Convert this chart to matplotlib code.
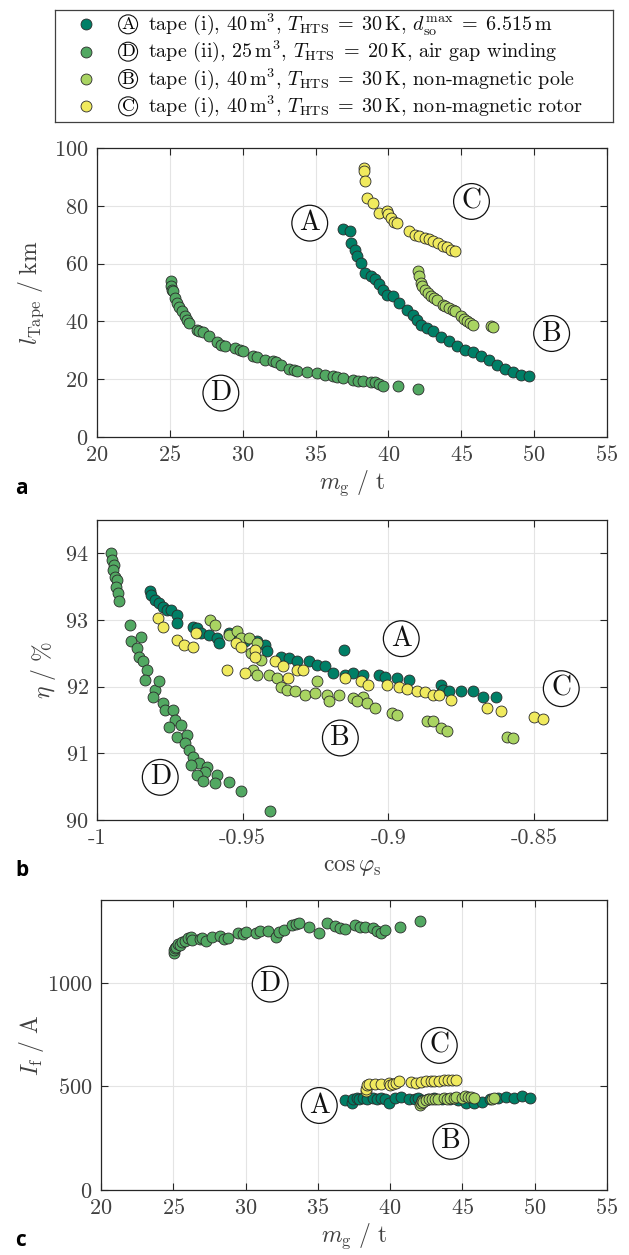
import matplotlib
matplotlib.use("Agg")
import matplotlib.pyplot as plt

plt.rcParams["font.family"] = "serif"
plt.rcParams["font.serif"] = ["cmr10"]
plt.rcParams["mathtext.fontset"] = "cm"
plt.rcParams["axes.unicode_minus"] = False
plt.rcParams["axes.formatter.use_mathtext"] = True

# --- data --------------------------------------------------------------
# series A: tape (i), 40 m3, T_HTS = 30 K, d_so max = 6.515 m
a_mg = [36.88, 37.35, 37.43, 37.70, 37.84, 38.10, 38.39, 38.80, 39.08, 39.35, 39.63,
        39.90, 40.31, 40.73, 41.27, 41.69, 41.96, 42.23, 42.65, 43.06, 43.61, 44.16,
        44.71, 45.25, 45.80, 46.35, 46.90, 47.45, 48.00, 48.55, 49.10, 49.65]
a_ltape = [72.1, 71.2, 67.1, 64.8, 62.5, 60.2, 56.7, 55.6, 54.7, 53.1, 51.0,
           49.3, 48.7, 46.4, 44.1, 42.3, 40.6, 38.9, 37.7, 36.6, 34.6, 33.1,
           31.6, 30.2, 29.3, 27.9, 26.8, 25.0, 23.5, 22.4, 21.6, 21.0]
a_if = [435, 418, 438, 442, 440, 445, 440, 443, 438, 446, 441,
        419, 444, 447, 440, 438, 442, 436, 440, 445, 438, 441,
        436, 418, 420, 425, 440, 446, 448, 443, 455, 442]
a_cos = [-0.98187, -0.98146, -0.98008, -0.97871, -0.97734, -0.97596, -0.97459, -0.97253,
         -0.97253, -0.96703, -0.96566, -0.96429, -0.96154, -0.95879, -0.95810, -0.95467,
         -0.95192, -0.94918, -0.94505, -0.94231, -0.94162, -0.93681, -0.93407, -0.93132,
         -0.92720, -0.92445, -0.92170, -0.91896, -0.91538, -0.91484, -0.91209, -0.90865,
         -0.90316, -0.90110, -0.89698, -0.89286, -0.88187, -0.88118, -0.87912, -0.87500,
         -0.87088, -0.86745, -0.86305]
a_eta = [93.43, 93.38, 93.30, 93.25, 93.20, 93.15, 93.15, 93.08,
         92.95, 92.90, 92.88, 92.80, 92.78, 92.73, 92.65, 92.80,
         92.73, 92.68, 92.68, 92.62, 92.53, 92.45, 92.43, 92.38,
         92.38, 92.33, 92.31, 92.20, 92.55, 92.18, 92.20, 92.18,
         92.18, 92.15, 92.13, 92.10, 92.03, 91.95, 91.93, 91.93,
         91.93, 91.85, 91.85]

# series D: tape (ii), 25 m3, T_HTS = 20 K, air gap winding
d_mg = [25.08, 25.08, 25.13, 25.20, 25.35, 25.49, 25.60, 25.82, 26.04, 26.20, 26.31,
        26.86, 27.00, 27.27, 27.69, 28.24, 28.50, 28.78, 29.47, 29.80, 30.02, 30.71,
        31.00, 31.53, 32.08, 32.30, 32.63, 33.18, 33.50, 33.73, 34.41, 35.10, 35.65,
        36.20, 36.50, 36.88, 37.57, 37.90, 38.25, 38.80, 39.10, 39.35, 39.63, 40.67, 42.04]
d_ltape = [53.9, 52.1, 51.0, 50.5, 48.1, 46.4, 45.0, 43.5, 41.8, 40.5, 39.4,
           37.1, 36.8, 36.2, 34.8, 32.8, 32.0, 31.4, 30.8, 30.0, 29.6, 28.1,
           27.8, 26.8, 26.2, 26.0, 25.0, 23.5, 23.2, 22.7, 22.4, 22.1, 21.6,
           21.0, 20.6, 20.4, 19.8, 19.5, 19.3, 19.0, 18.9, 18.5, 17.8, 17.8, 16.6]
d_if = [1145, 1160, 1166, 1175, 1190, 1185, 1195, 1200, 1215, 1220, 1206,
        1210, 1218, 1200, 1223, 1226, 1212, 1215, 1239, 1235, 1247, 1242,
        1252, 1250, 1223, 1245, 1255, 1279, 1285, 1290, 1268, 1239, 1287,
        1274, 1265, 1258, 1279, 1270, 1268, 1263, 1250, 1239, 1255, 1271, 1298]
d_cos = [-0.99519, -0.99478, -0.99423, -0.99451, -0.99382, -0.99313, -0.99341, -0.99286,
         -0.99245, -0.98860, -0.98832, -0.98489, -0.98626, -0.98558, -0.98420, -0.98283,
         -0.98352, -0.98008, -0.97871, -0.98077, -0.97734, -0.97665, -0.97390, -0.97321,
         -0.97527, -0.97115, -0.97253, -0.96909, -0.96978, -0.96841, -0.96703, -0.96497,
         -0.96772, -0.96223, -0.96291, -0.96566, -0.95879, -0.95948, -0.96360, -0.95467,
         -0.95055, -0.94066]
d_eta = [94.00, 93.90, 93.83, 93.75, 93.65, 93.60, 93.50, 93.40,
         93.29, 92.93, 92.68, 92.74, 92.58, 92.45, 92.38, 92.25,
         92.10, 91.95, 92.09, 91.85, 91.75, 91.65, 91.65, 91.50,
         91.40, 91.43, 91.25, 91.28, 91.15, 91.05, 90.95, 90.85,
         90.82, 90.80, 90.72, 90.67, 90.67, 90.55, 90.59, 90.57,
         90.44, 90.14]

# series B: tape (i), 40 m3, T_HTS = 30 K, non-magnetic pole
b_mg = [42.04, 42.10, 42.23, 42.30, 42.51, 42.70, 42.92, 43.10, 43.33, 43.74, 43.90,
        44.16, 44.40, 44.57, 44.98, 45.20, 45.39, 45.60, 45.80, 47.04, 47.18]
b_ltape = [57.3, 55.6, 53.3, 52.2, 51.0, 49.8, 48.7, 48.0, 47.3, 45.8, 45.2,
           44.6, 44.0, 43.5, 41.8, 40.8, 40.0, 39.5, 38.9, 38.3, 38.1]
b_if = [412, 420, 430, 425, 436, 437, 440, 441, 438, 442, 439,
        445, 444, 447, 446, 452, 450, 447, 443, 440, 442]
b_cos = [-0.96126, -0.95948, -0.95467, -0.95192, -0.95055, -0.94780, -0.94505, -0.94712,
         -0.94368, -0.94643, -0.94505, -0.94093, -0.93819, -0.93681, -0.93475, -0.93201,
         -0.92857, -0.92445, -0.92514, -0.92102, -0.92033, -0.91690, -0.91209, -0.90865,
         -0.91071, -0.90728, -0.90453, -0.89863, -0.89698, -0.88668, -0.88462, -0.88187,
         -0.87981, -0.85920, -0.85714]
b_eta = [93.00, 92.93, 92.78, 92.83, 92.73, 92.73, 92.65, 92.50,
         92.40, 92.25, 92.18, 92.18, 92.13, 92.00, 91.95, 91.93,
         91.88, 92.08, 91.90, 91.88, 91.78, 91.88, 91.83, 91.85,
         91.78, 91.75, 91.68, 91.60, 91.57, 91.48, 91.48, 91.38,
         91.34, 91.25, 91.23]

# series C: tape (i), 40 m3, T_HTS = 30 K, non-magnetic rotor
c_mg = [38.31, 38.34, 38.39, 38.53, 38.94, 39.35, 39.90, 40.00, 40.18, 40.40, 40.59,
        41.41, 41.80, 42.10, 42.51, 42.80, 43.06, 43.40, 43.74, 44.00, 44.29, 44.57]
c_ltape = [93.1, 92.0, 88.5, 82.7, 81.0, 77.5, 78.1, 77.0, 75.8, 74.5, 74.1,
           71.2, 70.0, 69.4, 68.9, 68.5, 67.7, 67.0, 66.0, 65.6, 64.8, 64.2]
c_if = [478, 490, 505, 510, 514, 510, 515, 508, 512, 518, 525,
        520, 518, 522, 526, 528, 524, 527, 530, 529, 532, 530]
c_cos = [-0.97912, -0.97734, -0.97253, -0.97019, -0.96703, -0.96593, -0.95536, -0.95220,
         -0.95055, -0.94918, -0.94574, -0.94574, -0.93887, -0.93613, -0.93434, -0.93132,
         -0.92926, -0.91484, -0.90934, -0.90687, -0.90041, -0.89629, -0.89354, -0.89011,
         -0.88736, -0.88462, -0.88255, -0.87843, -0.86607, -0.86154, -0.85000, -0.84684]
c_eta = [93.03, 92.90, 92.70, 92.63, 92.60, 92.80, 92.25, 92.65,
         92.60, 92.21, 92.55, 92.45, 92.38, 92.31, 92.13, 92.25,
         92.25, 92.13, 92.08, 92.03, 92.03, 92.00, 91.96, 91.93,
         91.92, 91.88, 91.88, 91.80, 91.68, 91.64, 91.55, 91.51]

series_names = ["A", "D", "B", "C"]
series_colors = {"A": "#007f66", "D": "#52a862", "B": "#a9d462", "C": "#f0ea5e"}
legend_labels = {
    "A": r"tape (i), $40\,\mathrm{m}^3$, $T_\mathrm{HTS}\;=\;30\,\mathrm{K}$, $d_\mathrm{so}^\mathrm{max}\;=\;6.515\,\mathrm{m}$",
    "D": r"tape (ii), $25\,\mathrm{m}^3$, $T_\mathrm{HTS}\;=\;20\,\mathrm{K}$, air gap winding",
    "B": r"tape (i), $40\,\mathrm{m}^3$, $T_\mathrm{HTS}\;=\;30\,\mathrm{K}$, non-magnetic pole",
    "C": r"tape (i), $40\,\mathrm{m}^3$, $T_\mathrm{HTS}\;=\;30\,\mathrm{K}$, non-magnetic rotor",
}

panel_a = {"A": (a_mg, a_ltape), "D": (d_mg, d_ltape), "B": (b_mg, b_ltape), "C": (c_mg, c_ltape)}
panel_b = {"A": (a_cos, a_eta), "D": (d_cos, d_eta), "B": (b_cos, b_eta), "C": (c_cos, c_eta)}
panel_c = {"A": (a_mg, a_if), "D": (d_mg, d_if), "B": (b_mg, b_if), "C": (c_mg, c_if)}

# circled labels inside the panels (data coords)
tags_a = {"A": (34.6, 74.0), "C": (45.7, 81.5), "B": (51.2, 35.8), "D": (28.5, 15.2)}
tags_b = {"A": (-0.8956, 92.72), "C": (-0.8407, 91.97), "B": (-0.9165, 91.23), "D": (-0.9783, 90.64)}
tags_c = {"D": (31.7, 994), "C": (43.4, 698), "A": (35.1, 408), "B": (44.2, 235)}

mg_ticks = [20, 25, 30, 35, 40, 45, 50, 55]
cos_ticks = [-1, -0.95, -0.9, -0.85]
cos_ticklabels = ["-1", "-0.95", "-0.9", "-0.85"]

W, H = 629, 1255
fig = plt.figure(figsize=(W / 100, H / 100), dpi=100)

def px_axes(left, top, right, bottom):
    return fig.add_axes([left / W, 1 - bottom / H, (right - left) / W, (bottom - top) / H])

def style_axes(ax):
    ax.grid(True, color="#e4e4e4", lw=0.8)
    ax.set_axisbelow(True)
    ax.tick_params(direction="in", top=True, right=True, length=5, width=0.8,
                   labelsize=16, colors="#262626", labelcolor="#404040", pad=6)
    for s in ax.spines.values():
        s.set_color("#262626")
        s.set_linewidth(0.9)

def draw_tags(ax, tags):
    for name, (x, y) in tags.items():
        ax.text(x, y, name, fontsize=20, ha="center", va="center", color="#111111",
                bbox=dict(boxstyle="circle,pad=0.17", fc="white", ec="#111111", lw=0.9))

def scatter_all(ax, data):
    for name in series_names:
        x, y = data[name]
        ax.scatter(x, y, s=62, color=series_colors[name], edgecolor="#2b2b2b",
                   linewidth=0.6, zorder=3)

label_kw = dict(fontsize=17, color="#404040")

# panel a
ax1 = px_axes(97, 148, 607, 437)
style_axes(ax1)
scatter_all(ax1, panel_a)
draw_tags(ax1, tags_a)
ax1.set_xlim(20, 55)
ax1.set_ylim(0, 100)
ax1.set_xticks(mg_ticks)
ax1.set_yticks([0, 20, 40, 60, 80, 100])
ax1.set_xlabel(r"$m_\mathrm{g}\ /\ \mathrm{t}$", labelpad=2, **label_kw)
ax1.set_ylabel(r"$l_\mathrm{Tape}\ /\ \mathrm{km}$", labelpad=6, **label_kw)

# panel b
ax2 = px_axes(97, 520, 607, 820)
style_axes(ax2)
scatter_all(ax2, panel_b)
draw_tags(ax2, tags_b)
ax2.set_xlim(-1, -0.825)
ax2.set_ylim(90, 94.5)
ax2.set_xticks(cos_ticks)
ax2.set_xticklabels(cos_ticklabels)
ax2.set_yticks([90, 91, 92, 93, 94])
ax2.set_xlabel(r"$\cos\varphi_\mathrm{s}$", labelpad=6, **label_kw)
ax2.set_ylabel(r"$\eta\ /\ \%$", labelpad=5, **label_kw)

# panel c
ax3 = px_axes(101, 900, 607, 1190)
style_axes(ax3)
scatter_all(ax3, panel_c)
draw_tags(ax3, tags_c)
ax3.set_xlim(20, 55)
ax3.set_ylim(0, 1400)
ax3.set_xticks(mg_ticks)
ax3.set_yticks([0, 500, 1000])
ax3.set_xlabel(r"$m_\mathrm{g}\ /\ \mathrm{t}$", labelpad=2, **label_kw)
ax3.set_ylabel(r"$I_\mathrm{f}\ /\ \mathrm{A}$", labelpad=1, **label_kw)

for letter, ypx in [("a", 488), ("b", 870), ("c", 1240)]:
    fig.text(15 / W, 1 - ypx / H, letter, fontsize=15, fontweight="bold",
             family="Open Sans", ha="left", va="center")

# legend box
axl = px_axes(55, 10, 613, 122)
axl.set_xlim(0, 1)
axl.set_ylim(0, 1)
axl.set_xticks([])
axl.set_yticks([])
for s in axl.spines.values():
    s.set_color("#404040")
    s.set_linewidth(0.9)
row_y = [0.872, 0.628, 0.384, 0.14]
for name, y in zip(series_names, row_y):
    axl.scatter([0.056], [y], s=62, color=series_colors[name], edgecolor="#2b2b2b", linewidth=0.6)
    axl.text(0.131, y, name, fontsize=13, ha="center", va="center",
             bbox=dict(boxstyle="circle,pad=0.1", fc="white", ec="#111111", lw=0.8))
    axl.text(0.166, y, legend_labels[name], fontsize=14.5, ha="left", va="center", color="#111111")

plt.savefig("out.png", dpi=100)
